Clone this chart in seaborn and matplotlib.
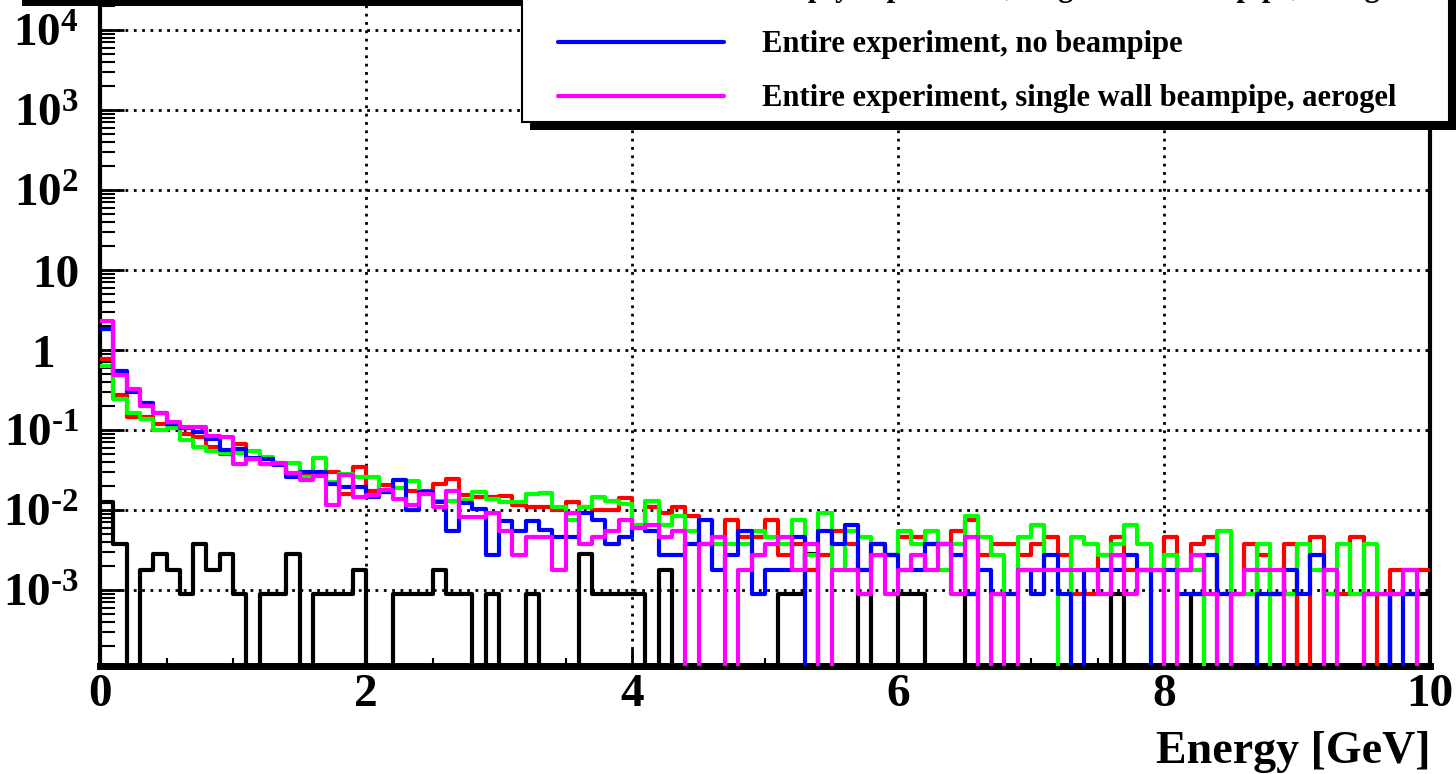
import numpy as np
import pandas as pd
import matplotlib

matplotlib.use('Agg')
import matplotlib.pyplot as plt
import matplotlib.transforms as mtransforms
from matplotlib.patches import Rectangle
from matplotlib.lines import Line2D
from matplotlib.ticker import FixedLocator, LogLocator, NullFormatter, MultipleLocator
import seaborn as sns

# 100 bins of 0.1 GeV between 0 and 10 GeV
energy_min = 0.0
energy_max = 10.0
n_bins = 100

# bin contents (bins 0..99, ten per row)
black_vals = [
    0.0125, 0.0037, 0, 0.0018, 0.0028, 0.0018, 0.0009, 0.0037, 0.0018, 0.0028,
    0.0009, 0, 0.0009, 0.0009, 0.0028, 0, 0.0009, 0.0009, 0.0009, 0.0018,
    0, 0, 0.0009, 0.0009, 0.0009, 0.0018, 0.0009, 0.0009, 0, 0.0009,
    0, 0, 0.0009, 0, 0, 0, 0.0028, 0.0009, 0.0009, 0.0009,
    0.0009, 0, 0.0018, 0, 0, 0, 0, 0, 0, 0,
    0, 0.0009, 0.0009, 0.0028, 0, 0, 0, 0.0009, 0, 0,
    0.0009, 0.0009, 0, 0, 0, 0.0009, 0, 0, 0, 0,
    0, 0, 0, 0, 0, 0, 0.0009, 0, 0, 0,
    0, 0, 0.0009, 0, 0, 0, 0, 0.0018, 0.0009, 0.0009,
    0, 0, 0, 0, 0, 0, 0, 0.0009, 0.0009, 0.0009,
]

red_vals = [
    0.77, 0.274, 0.147, 0.147, 0.118, 0.115, 0.089, 0.081, 0.062, 0.050,
    0.067, 0.043, 0.038, 0.037, 0.0285, 0.028, 0.029, 0.030, 0.0158, 0.034,
    0.0174, 0.0205, 0.019, 0.0174, 0.0174, 0.021, 0.0242, 0.0154, 0.0144, 0.0146,
    0.015, 0.0116, 0.0108, 0.011, 0.010, 0.0127, 0.011, 0.010, 0.010, 0.014,
    0.0065, 0.011, 0.0092, 0.011, 0.0083, 0.0037, 0.0037, 0.0075, 0.0046, 0.0046,
    0.0075, 0.0027, 0.0037, 0.0018, 0.0027, 0.0055, 0.0037, 0.0018, 0.0037, 0.0027,
    0.0046, 0.0046, 0.0037, 0.0037, 0.0055, 0.0075, 0.0027, 0.0037, 0.0037, 0.0027,
    0.0037, 0.0046, 0.0027, 0.0009, 0.0009, 0.0027, 0.0046, 0.0018, 0.0018, 0.0018,
    0.0046, 0.0018, 0.0037, 0.0046, 0.0009, 0.0009, 0.0037, 0.0027, 0.0009, 0.0037,
    0, 0.0046, 0.0009, 0.0009, 0.0046, 0.0009, 0, 0.0018, 0.0018, 0.0018,
]

green_vals = [
    0.63, 0.244, 0.164, 0.136, 0.100, 0.105, 0.075, 0.062, 0.055, 0.052,
    0.052, 0.055, 0.046, 0.039, 0.039, 0.026, 0.044, 0.0226, 0.0285, 0.026,
    0.026, 0.0166, 0.019, 0.0233, 0.0166, 0.013, 0.013, 0.0133, 0.0169, 0.0137,
    0.0127, 0.0127, 0.0157, 0.0162, 0.011, 0.0075, 0.011, 0.0147, 0.013, 0.012,
    0.0065, 0.013, 0.0065, 0.0083, 0.0055, 0.0037, 0.0037, 0.0037, 0.0037, 0.0055,
    0.0046, 0.0037, 0.0075, 0.0027, 0.0092, 0.0018, 0.0055, 0.0046, 0.0037, 0.0027,
    0.0055, 0.0037, 0.0055, 0.0018, 0.0037, 0.0083, 0.0046, 0.0027, 0.0009, 0.0046,
    0.0065, 0.0018, 0, 0.0046, 0.0037, 0.0027, 0.0037, 0.0065, 0.0037, 0,
    0.0027, 0.0018, 0.0018, 0, 0.0055, 0.0009, 0.0009, 0.0037, 0, 0.0009,
    0.0037, 0.0018, 0.0009, 0.0037, 0.0009, 0.0037, 0.0009, 0, 0, 0,
]

blue_vals = [
    1.83, 0.546, 0.301, 0.22, 0.161, 0.12, 0.105, 0.094, 0.077, 0.056,
    0.057, 0.0446, 0.043, 0.0365, 0.026, 0.030, 0.030, 0.0211, 0.0192, 0.0192,
    0.0144, 0.0166, 0.0237, 0.0099, 0.0166, 0.0127, 0.0055, 0.0121, 0.0102, 0.0027,
    0.0073, 0.0055, 0.0073, 0.0056, 0.0046, 0.0046, 0.0092, 0.0075, 0.0037, 0.0046,
    0.006, 0.0055, 0.0027, 0.0027, 0.0037, 0.0075, 0.0018, 0.0027, 0.0055, 0.0009,
    0.0018, 0.0018, 0.0046, 0, 0.0055, 0.0037, 0.0065, 0.0018, 0.0037, 0.0027,
    0.0018, 0.0018, 0.0037, 0.0037, 0.0027, 0.0009, 0.0018, 0.0009, 0.0009, 0.0018,
    0.0009, 0.0027, 0.0009, 0, 0.0018, 0.0018, 0.0018, 0.0027, 0.0018, 0,
    0.0018, 0.0009, 0.0009, 0.0027, 0.0009, 0, 0, 0.0009, 0.0009, 0.0018,
    0.0009, 0.0027, 0, 0, 0, 0.0009, 0.0009, 0, 0.0009, 0,
]

magenta_vals = [
    2.32, 0.487, 0.322, 0.20, 0.164, 0.127, 0.108, 0.108, 0.083, 0.081,
    0.038, 0.043, 0.0376, 0.039, 0.029, 0.0237, 0.0267, 0.0116, 0.0274, 0.0144,
    0.0154, 0.018, 0.0136, 0.0116, 0.0158, 0.0108, 0.0174, 0.0082, 0.0082, 0.0091,
    0.0055, 0.0027, 0.0046, 0.0046, 0.0018, 0.0092, 0.0037, 0.0046, 0.0055, 0.0075,
    0.006, 0.0065, 0.0046, 0.0055, 0, 0.0037, 0.0046, 0, 0.0018, 0.0027,
    0.0037, 0.0046, 0.0018, 0.0037, 0, 0.0018, 0.0018, 0.0009, 0.0027, 0.0009,
    0.0018, 0.0027, 0.0018, 0.0037, 0.0009, 0.0046, 0, 0.0009, 0, 0.0018,
    0.0018, 0.0018, 0.0018, 0.0018, 0.0018, 0.0009, 0.0027, 0.0009, 0.0018, 0.0018,
    0, 0.0018, 0.0027, 0.0009, 0, 0.0009, 0.0018, 0.0018, 0.0018, 0,
    0, 0, 0.0018, 0, 0, 0.0009, 0.0009, 0.0009, 0.0018, 0,
]

# drawing order: first one lies at the bottom
series = [
    ('black', black_vals),
    ('#ff0000', red_vals),
    ('#00ff00', green_vals),
    ('#0000ff', blue_vals),
    ('#ff00ff', magenta_vals),
]

# only the lower part of the legend is inside the picture
legend_labels = [
    ('#00ff00', 'Empty experiment, single wall beampipe, aerogel'),
    ('#0000ff', 'Entire experiment, no beampipe'),
    ('#ff00ff', 'Entire experiment, single wall beampipe, aerogel'),
]

y_tick_vals = [1e4, 1e3, 1e2, 10, 1, 1e-1, 1e-2, 1e-3]
y_tick_text = [r'$10^{4}$', r'$10^{3}$', r'$10^{2}$', '10', '1',
               '$10^{\u2010' + '1}$', '$10^{\u2010' + '2}$', '$10^{\u2010' + '3}$']

W, H = 1456, 774
sns.set_style('white')
plt.rcParams['font.family'] = ['Liberation Serif', 'DejaVu Serif']
plt.rcParams['font.weight'] = 'bold'
plt.rcParams['text.color'] = 'black'
plt.rcParams['xtick.color'] = 'black'
plt.rcParams['ytick.color'] = 'black'
plt.rcParams['axes.labelcolor'] = 'black'
plt.rcParams['mathtext.fontset'] = 'custom'
plt.rcParams['mathtext.rm'] = 'Liberation Serif:bold'
plt.rcParams['mathtext.it'] = 'Liberation Serif:bold'
plt.rcParams['mathtext.bf'] = 'Liberation Serif:bold'
plt.rcParams['mathtext.default'] = 'rm'

fig = plt.figure(figsize=(W / 100, H / 100), dpi=100)
ax = fig.add_axes([100 / W, 1 - 666 / H, 1330 / W, 663 / H])

edges = np.linspace(energy_min, energy_max, n_bins + 1)
centers = 0.5 * (edges[:-1] + edges[1:])

for color, vals in series:
    df = pd.DataFrame({'energy': centers, 'content': vals})
    # empty bins are drawn along the bottom of the frame, as ROOT does
    df['content'] = df['content'].where(df['content'] > 0, 1e-6)
    sns.histplot(data=df, x='energy', weights='content', bins=n_bins,
                 binrange=(energy_min, energy_max),
                 element='step', fill=False, color=color, linewidth=3,
                 ax=ax, zorder=3)

ax.set_yscale('log')
ax.set_xlim(energy_min, energy_max)
ax.set_ylim(1.12e-4, 2.17e4)
ax.set_xlabel('')
ax.set_ylabel('')

# ticks, ROOT style: inside the frame
ax.xaxis.set_major_locator(FixedLocator([0, 2, 4, 6, 8, 10]))
ax.xaxis.set_minor_locator(MultipleLocator(0.5))
ax.set_xticklabels(['0', '2', '4', '6', '8', '10'])
ax.tick_params(axis='x', which='major', direction='in', length=12, width=2,
               labelsize=34, pad=6, bottom=True, top=False)
ax.tick_params(axis='x', which='minor', direction='in', length=6, width=1.5,
               bottom=True, top=False)
ax.yaxis.set_major_locator(FixedLocator(y_tick_vals))
ax.yaxis.set_minor_locator(LogLocator(base=10, subs=np.arange(2, 10), numticks=20))
ax.yaxis.set_major_formatter(NullFormatter())
ax.yaxis.set_minor_formatter(NullFormatter())
ax.tick_params(axis='y', which='major', direction='in', length=17, width=2,
               left=True, right=False)
ax.tick_params(axis='y', which='minor', direction='in', length=11, width=1.5,
               left=True, right=False)

ax.grid(True, which='major', color='black', linestyle=(0, (1, 2)), linewidth=2)
ax.set_axisbelow(True)

ax.spines['top'].set_visible(False)
ax.spines['left'].set_linewidth(3)
ax.spines['right'].set_linewidth(3)
ax.spines['bottom'].set_linewidth(5)
for s in ax.spines.values():
    s.set_color('black')

# y labels placed by hand (ROOT puts the plain "1" further left)
trans = mtransforms.blended_transform_factory(fig.transFigure, ax.transData)
trans = mtransforms.offset_copy(trans, fig=fig, y=-17, units='dots')
for v, t in zip(y_tick_vals, y_tick_text):
    if t == '1':
        ax.text(43 / W, v, t, transform=trans, ha='center', va='baseline', fontsize=34)
    else:
        ax.text(79 / W, v, t, transform=trans, ha='right', va='baseline', fontsize=34)

fig.text(1430 / W, 1 - 763 / H, 'Energy [GeV]', ha='right', va='baseline', fontsize=33)

# frame shadow strip at the very top
fig.add_artist(Rectangle((22 / W, 1 - 6 / H), (W - 22) / W, 10 / H,
                         transform=fig.transFigure, facecolor='black',
                         edgecolor='none', zorder=5))

# legend box with shadow (its upper part is cut by the picture edge)
fig.add_artist(Rectangle((530 / W, 1 - 130 / H), (W + 10 - 530) / W, 200 / H,
                         transform=fig.transFigure, facecolor='black',
                         edgecolor='none', zorder=6))
fig.add_artist(Rectangle((522 / W, 1 - 122 / H), (1449 - 522) / W, 200 / H,
                         transform=fig.transFigure, facecolor='white',
                         edgecolor='black', linewidth=1.5, zorder=7))
legend_rows = [-14, 42, 96]
for row_y, (color, label) in zip(legend_rows, legend_labels):
    yc = 1 - row_y / H
    fig.add_artist(Line2D([558 / W, 724 / W], [yc, yc], transform=fig.transFigure,
                          color=color, linewidth=3, zorder=8))
    fig.text(762 / W, yc - 10 / H, label, ha='left', va='baseline',
             fontsize=22, zorder=8)

fig.savefig('out.png', dpi=100)
